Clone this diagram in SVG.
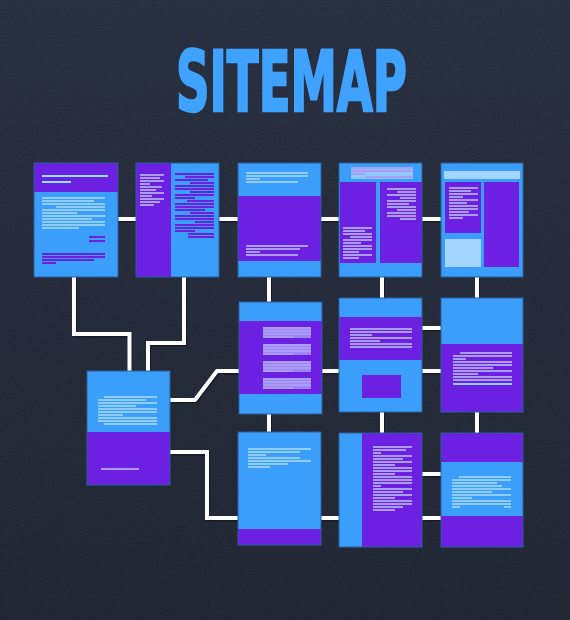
<svg xmlns="http://www.w3.org/2000/svg" width="570" height="620" viewBox="0 0 570 620">
<defs>
<linearGradient id="bg" x1="0" y1="0" x2="0" y2="1">
<stop offset="0" stop-color="#262d3e"/>
<stop offset="1" stop-color="#1f2431"/>
</linearGradient>
<filter id="noise" x="0" y="0" width="100%" height="100%">
<feTurbulence type="fractalNoise" baseFrequency="0.9" numOctaves="2" seed="3" result="n"/>
<feColorMatrix type="matrix" values="0 0 0 0 0.6  0 0 0 0 0.65  0 0 0 0 0.75  0 0 0 0.35 -0.1" />
</filter>
<style>
.blue{fill:#3b9efa}
.pur{fill:#6b20e2}
.pg{fill:#a3d5ff}
.frame{fill:none;stroke:#2b5f9e;stroke-width:1}
.lb{fill:none;stroke:#8fcdff;stroke-width:2}
.lc{fill:none;stroke:#8fe3ff;stroke-width:2}
.lv{fill:none;stroke:#aa9cf7;stroke-width:2}
.lp{fill:none;stroke:#6a22e0;stroke-width:2}
.conn{fill:none;stroke:#ffffff;stroke-width:4;stroke-linejoin:miter}
.shadow{fill:none;stroke:#151a24;stroke-width:4}
.title{font-family:"DejaVu Sans Condensed","DejaVu Sans","Liberation Sans",sans-serif;font-weight:bold;font-size:84px;fill:#3fa2ff;stroke:#3fa2ff;stroke-width:2.5;stroke-linejoin:miter}
</style>
</defs>
<rect width="570" height="620" fill="url(#bg)"/>
<rect width="570" height="620" filter="url(#noise)" opacity="0.25"/>
<text class="title" x="176" y="110.5" textLength="231" lengthAdjust="spacingAndGlyphs">SITEMAP</text>

<g id="connectors">
<g transform="translate(1,1.5)" class="shadow">
<path d="M118 219H136M219 219H238M321 219H339M422 219H441"/>
<path d="M74 277V334H129.5V371M184 277V343H148V371"/>
<path d="M170 400H195L217 371H239M170 452H207V518H238"/>
<path d="M269 277V302M269 414V432M382 277V298M382 412V433M477 277V298M477 412V433"/>
<path d="M322 371H339M422 328H441M422 371H441M321 518H339M422 474H441M422 518H441"/>
</g>
<g class="conn">
<path d="M118 219H136M219 219H238M321 219H339M422 219H441"/>
<path d="M74 277V334H129.5V371M184 277V343H148V371"/>
<path d="M170 400H195L217 371H239M170 452H207V518H238"/>
<path d="M269 277V302M269 414V432M382 277V298M382 412V433M477 277V298M477 412V433"/>
<path d="M322 371H339M422 328H441M422 371H441M321 518H339M422 474H441M422 518H441"/>
</g>
</g>

<g id="node1">
<rect class="blue" x="34" y="163" width="84" height="114"/>
<rect class="pur" x="34" y="163" width="84" height="29"/>
<path class="lc" d="M42 176h66M42 182h29"/>
<path class="lb" d="M42 198h63M42 201h52M42 204h63M56 207h49M42 210h63M42 213h35M42 216h63M42 219h50M42 222h63M42 225h63M42 228h37"/>
<path class="lp" d="M89 237h16M89 241h16"/>
<path class="lp" d="M42 254h63M42 257h63M42 260h52M42 263h14"/>
<rect class="frame" x="34" y="163" width="84" height="114"/>
</g>

<g id="node2">
<rect class="blue" x="136" y="163" width="83" height="114"/>
<rect class="pur" x="136" y="163" width="35" height="114"/>
<path class="lv" d="M140 175h24M140 178h20M140 181h24M140 184h10M140 187h22M140 190h16M140 193h24M140 196h12M140 199h24M140 202h20M140 205h14"/>
<path class="lp" d="M175 174h39M185 177h29M175 180h33M190 183h24M175 186h39M175 189h39M190 192h24M175 195h39M175 198h20M187 201h27M175 204h39M175 207h39M175 210h30M190 213h24M175 216h39M175 219h39M195 222h19M175 225h39M175 228h39M175 231h20M188 234h26M188 237h26"/>
<rect class="frame" x="136" y="163" width="83" height="114"/>
</g>

<g id="node3">
<rect class="blue" x="238" y="163" width="83" height="114"/>
<rect class="pur" x="238" y="196" width="83" height="65"/>
<path class="lb" d="M246 173h62M246 176h62M246 179h14M246 182h52"/>
<path class="lv" d="M246 246h62M246 249h54M246 252h14M246 255h52"/>
<rect class="frame" x="238" y="163" width="83" height="114"/>
</g>

<g id="node4">
<rect class="blue" x="339" y="163" width="83" height="114"/>
<rect class="pur" x="340" y="182" width="36" height="81"/>
<rect class="pur" x="380" y="182" width="42" height="81"/>
<rect x="351" y="167" width="62" height="12" fill="#8fc8ff"/>
<path class="lv" d="M351 168h62M351 171h62M351 174h14M365 177h48" stroke="#b4d8ff"/>
<path class="lv" d="M343 228h29M343 231h22M343 234h29M350 237h22M343 240h29M343 243h18M343 246h29M343 249h29M343 252h16M343 255h29M343 258h16"/>
<path class="lv" d="M387 189h29M397 192h19M387 195h29M400 198h16M387 201h29M387 204h22M387 207h29M397 210h19M387 213h29M387 216h29M400 219h16"/>
<rect class="frame" x="339" y="163" width="83" height="114"/>
</g>

<g id="node5">
<rect class="blue" x="441" y="163" width="82" height="114"/>
<rect class="pg" x="444" y="171" width="76" height="8"/>
<rect class="pur" x="445" y="182" width="36" height="51"/>
<rect class="pur" x="484" y="182" width="35" height="85"/>
<rect class="pg" x="445" y="239" width="36" height="28"/>
<path class="lv" d="M449 188h29M449 191h22M449 194h29M449 197h14M449 200h29M449 203h18M449 206h29M449 209h29M449 212h20M449 215h29M449 218h14"/>
<rect class="frame" x="441" y="163" width="82" height="114"/>
</g>

<g id="node6">
<rect class="blue" x="87" y="371" width="83" height="114"/>
<rect class="pur" x="87" y="432" width="83" height="53"/>
<path class="lb" d="M104 397h53M98 400h48M98 403h59M98 406h38M98 409h59M98 412h59M98 415h25M98 418h59M98 421h59M104 424h53"/>
<path class="lv" d="M101 469h38"/>
<rect class="frame" x="87" y="371" width="83" height="114"/>
</g>

<g id="node7">
<rect class="blue" x="239" y="302" width="83" height="112"/>
<rect class="pur" x="239" y="321" width="83" height="73"/>
<g fill="#9b86f3">
<rect x="263" y="327" width="48" height="11"/>
<rect x="263" y="344" width="48" height="11"/>
<rect x="263" y="361" width="48" height="11"/>
<rect x="263" y="378" width="48" height="11"/>
</g>
<path class="lv" stroke="#c4b8fb" stroke-width="1" d="M263 328h48M263 331h48M263 334h48M263 337h30M263 345h48M263 348h48M263 351h48M263 354h30M263 362h48M263 365h48M263 368h48M263 371h30M263 379h48M263 382h48M263 385h48M263 388h30"/>
<rect class="frame" x="239" y="302" width="83" height="112"/>
</g>

<g id="node8">
<rect class="blue" x="339" y="298" width="83" height="114"/>
<rect class="pur" x="339" y="317" width="83" height="43"/>
<path class="lv" d="M350 329h62M350 332h62M350 335h22M350 338h62M350 341h30M350 344h62M350 347h62"/>
<rect class="pur" x="362" y="375" width="39" height="23"/>
<rect class="frame" x="339" y="298" width="83" height="114"/>
</g>

<g id="node9">
<rect class="blue" x="441" y="298" width="82" height="114"/>
<rect class="pur" x="441" y="344" width="82" height="68"/>
<path class="lv" d="M460 353h52M453 356h59M453 359h13M453 362h59M453 365h59M453 368h40M453 371h59M453 374h25M453 377h59M453 380h59"/>
<path class="lb" d="M453 384h59"/>
<rect class="frame" x="441" y="298" width="82" height="114"/>
</g>

<g id="node10">
<rect class="blue" x="238" y="432" width="83" height="113"/>
<rect class="pur" x="238" y="529" width="83" height="16"/>
<path class="lb" d="M248 449h63M248 452h52M248 455h18M248 458h52M248 461h63M248 464h40M248 467h22"/>
<rect class="frame" x="238" y="432" width="83" height="113"/>
</g>

<g id="node11">
<rect class="pur" x="339" y="433" width="83" height="114"/>
<rect class="blue" x="339" y="433" width="23" height="114"/>
<path class="lv" d="M373 447h39M373 450h33M373 453h8M373 456h39M373 459h30M373 462h39M373 465h22M373 468h39M373 471h39M373 474h22M373 477h39M373 480h39M373 483h39M373 486h8M373 489h39M373 492h30M373 495h39M373 498h22M373 501h39M373 504h39M373 507h30M373 510h22"/>
<rect class="frame" x="339" y="433" width="83" height="114"/>
</g>

<g id="node12">
<rect class="pur" x="441" y="433" width="82" height="114"/>
<rect class="blue" x="441" y="462" width="82" height="54"/>
<path class="lb" d="M459 477h52M452 480h59M452 483h45M452 486h50M452 489h59M452 492h40M452 495h59M452 498h20M452 501h59M452 504h59M452 507h8M504 507h7"/>
<rect class="frame" x="441" y="433" width="82" height="114"/>
</g>
</svg>
